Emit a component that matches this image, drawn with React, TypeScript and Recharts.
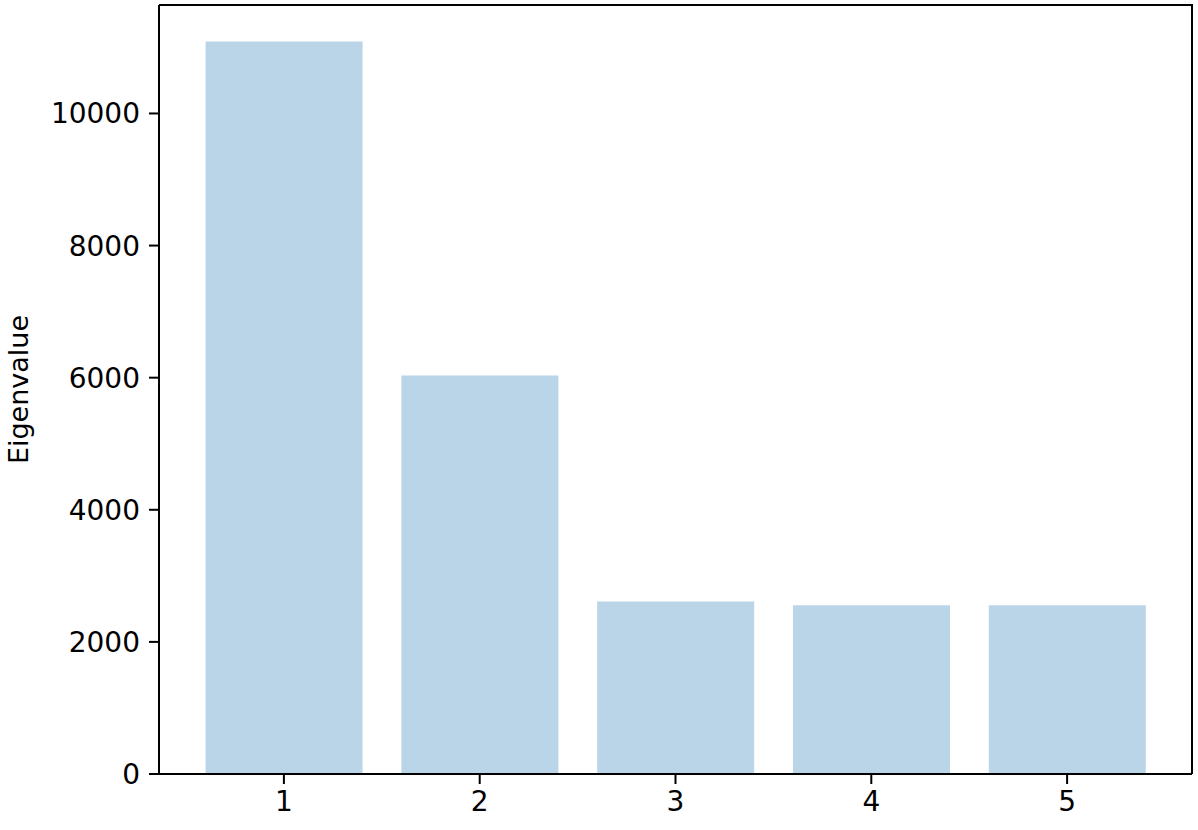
import { BarChart, Bar, XAxis, YAxis } from 'recharts';

const components = ['1', '2', '3', '4', '5'];
const eigenvalues = [11088, 6032, 2613, 2553, 2553];
const yTicks = [0, 2000, 4000, 6000, 8000, 10000];

const data = components.map((c, i) => ({ component: c, eigenvalue: eigenvalues[i] }));

const tickStyle = { fill: '#000', fontSize: 28, fontFamily: 'DejaVu Sans' };

export default function App() {
  return (
    <div style={{ position: 'absolute', left: 0, top: 0, width: 1198, height: 830, background: '#fff' }}>
      <BarChart
        width={1198}
        height={830}
        data={data}
        margin={{ top: 5, right: 6, left: 0, bottom: 0 }}
        barCategoryGap="10%"
      >
        <XAxis
          dataKey="component"
          height={56}
          padding={{ left: 27, right: 27 }}
          tick={tickStyle}
          tickSize={10}
          tickMargin={7}
          axisLine={{ stroke: '#000', strokeWidth: 2 }}
          tickLine={{ stroke: '#000', strokeWidth: 2 }}
        />
        <YAxis
          width={159}
          domain={[0, 11642]}
          ticks={yTicks}
          tick={tickStyle}
          tickSize={10}
          tickMargin={9}
          axisLine={{ stroke: '#000', strokeWidth: 2 }}
          tickLine={{ stroke: '#000', strokeWidth: 2 }}
          label={{ value: 'Eigenvalue', angle: -90, position: 'insideLeft', offset: 18, style: { fill: '#000', fontSize: 27, fontFamily: 'DejaVu Sans', textAnchor: 'middle' } }}
        />
        <Bar dataKey="eigenvalue" fill="#bad4e8" isAnimationActive={false} />
      </BarChart>
      {/* top and right spines */}
      <div
        style={{
          position: 'absolute',
          left: 159,
          top: 4,
          width: 1034,
          height: 770,
          boxSizing: 'border-box',
          borderTop: '2px solid #000',
          borderRight: '2px solid #000',
          pointerEvents: 'none',
        }}
      />
    </div>
  );
}
